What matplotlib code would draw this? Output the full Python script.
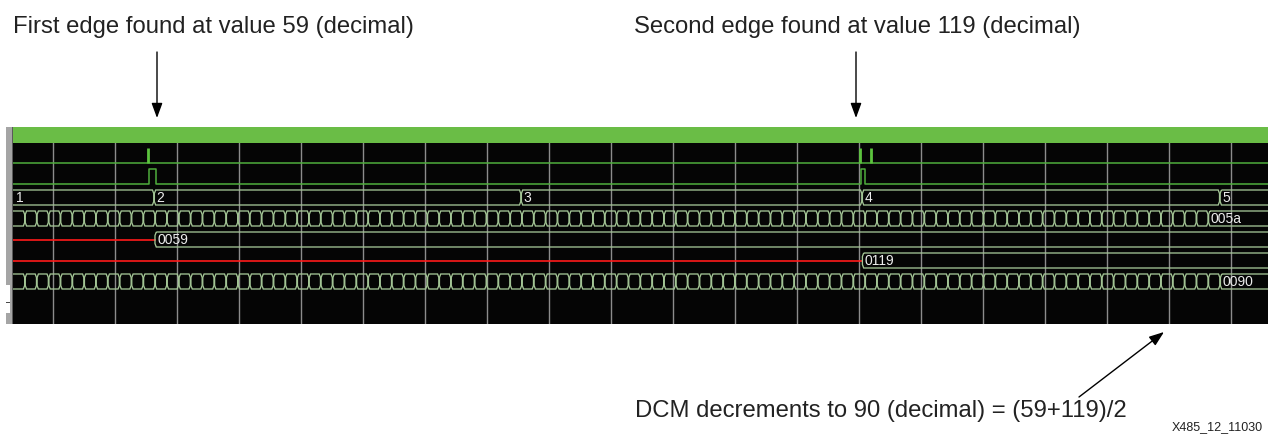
import numpy as np
import matplotlib
matplotlib.use("Agg")
import matplotlib.pyplot as plt
from matplotlib.patches import Polygon, Rectangle

# ---------------- data (time axis in ns) ----------------
grid_ns = [0, 100, 200, 300, 400, 500, 600, 700, 800, 900,
           1000, 1100, 1200, 1300, 1400, 1500, 1600, 1700, 1800, 1900]
view_ns = (-64.5, 1959.7)

# row 1: edge-detect strobes
strobe_ns = [153.7, 1301.6, 1319.4]
# row 2: capture pulses
pulse_start_ns = [154.8, 1303.7]
pulse_end_ns = [165.6, 1310.2]
# row 3: state bus
state_edges_ns = [163.0, 755.0, 1305.0, 1882.0]
state_labels = ["1", "2", "3", "4", "5"]
# rows 4 and 7: counters stepping every clock
clk_first_edge_ns = -45.2
clk_period_ns = 19.086
counter_a_steps = 101          # ends at value 005a
counter_b_steps = 102          # ends at value 0090
counter_a_final = "005a"
counter_b_final = "0090"
# rows 5 and 6: captured edge values
first_edge_ns = 164.0
first_edge_value = "0059"
second_edge_ns = 1305.0
second_edge_value = "0119"

# ---------------- style ----------------
W, H = 1268, 434
BUS = "#a3c595"
GREEN = "#4fae3c"
GREEN_BAR = "#6abd46"
RED = "#ff1a1a"
GRID = "#8c8c8c"
TXT = "#222222"
LBL = "#ececec"
BUS_FONT = ["Liberation Sans Narrow", "Liberation Sans", "DejaVu Sans"]
BUS_FS = 10

fig = plt.figure(figsize=(W / 100, H / 100), dpi=100)
fig.patch.set_facecolor("white")

# main waveform panel: px x 13..1268, px y 127..324
px_top, px_bot = 127, 324
ax = fig.add_axes([13 / W, 1 - px_bot / H, (W - 13) / W, (px_bot - px_top) / H])
ax.set_facecolor("#050505")
ROW_PX = 21.0
row0_px = 155.5
to_row = lambda p: (p - row0_px) / ROW_PX
ax.set_xlim(*view_ns)
ax.set_ylim(to_row(px_bot), to_row(px_top))
ax.axis("off")
ax.add_patch(Rectangle((view_ns[0], to_row(px_top)), view_ns[1] - view_ns[0],
                       to_row(143) - to_row(px_top), color=GREEN_BAR, zorder=5, lw=0))
ax.add_patch(Rectangle((view_ns[0], to_row(143)), view_ns[1] - view_ns[0],
                       to_row(px_bot) - to_row(143), color="#050505", zorder=0, lw=0))

for g in grid_ns:
    ax.plot([g, g], [to_row(143), to_row(px_bot)], color=GRID, lw=1.0, zorder=1)

hh = 7.5 / ROW_PX
d, gp, hv = 2.6, 0.5, 3.5 / ROW_PX


def cell(row, s, e, color=BUS):
    top, bot = row - hh, row + hh
    pts = [(s + d, top), (e - d, top), (e - gp, top + hv), (e - gp, bot - hv),
           (e - d, bot), (s + d, bot), (s + gp, bot - hv), (s + gp, top + hv)]
    ax.add_patch(Polygon(pts, closed=True, fill=False, edgecolor=color, lw=0.95,
                         zorder=3, joinstyle="miter"))


def label(x, row, s):
    ax.text(x, row + 0.03, s, color=LBL, fontsize=BUS_FS, family=BUS_FONT,
            va="center", ha="left", zorder=4)


def bus(row, edges, labels=None, label_last_only=None):
    left = view_ns[0] - 30
    right = view_ns[1] + 30
    bounds = [left] + list(edges) + [right]
    for i in range(len(bounds) - 1):
        cell(row, bounds[i], bounds[i + 1])
    if labels is not None:
        for i, lab in enumerate(labels):
            x = (view_ns[0] + 5) if i == 0 else bounds[i] + 4.0
            label(x, row, lab)
    if label_last_only is not None:
        label(bounds[-2] + 4.0, row, label_last_only)


# row 1 (index 0): strobes
lo, hi = 0 + hh, 0 - hh
ax.plot(view_ns, [lo, lo], color=GREEN, lw=1.1, zorder=3)
for s in strobe_ns:
    ax.plot([s, s], [lo, hi], color="#5cc43e", lw=2.0, zorder=3, solid_capstyle="butt")

# row 2 (index 1): pulses
lo, hi = 1 + hh, 1 - hh
xs, ys = [view_ns[0]], [lo]
for a, b in zip(pulse_start_ns, pulse_end_ns):
    xs += [a, a, b, b]
    ys += [lo, hi, hi, lo]
xs.append(view_ns[1]); ys.append(lo)
ax.plot(xs, ys, color=GREEN, lw=1.1, zorder=3)

# row 3 (index 2): state bus
bus(2, state_edges_ns, labels=state_labels)

# row 4 (index 3): counter a
edges_a = clk_first_edge_ns + clk_period_ns * np.arange(counter_a_steps)
bus(3, edges_a, label_last_only=counter_a_final)

# row 5 (index 4): first edge value
ax.plot([view_ns[0], first_edge_ns + gp], [4, 4], color=RED, lw=1.2, zorder=3)
cell(4, first_edge_ns, view_ns[1] + 30)
label(first_edge_ns + 4.0, 4, first_edge_value)

# row 6 (index 5): second edge value
ax.plot([view_ns[0], second_edge_ns + gp], [5, 5], color=RED, lw=1.2, zorder=3)
cell(5, second_edge_ns, view_ns[1] + 30)
label(second_edge_ns + 4.0, 5, second_edge_value)

# row 7 (index 6): counter b
edges_b = clk_first_edge_ns + clk_period_ns * np.arange(counter_b_steps)
bus(6, edges_b, label_last_only=counter_b_final)

# ---------------- overlay: annotations & window chrome ----------------
ov = fig.add_axes([0, 0, 1, 1], zorder=10)
ov.set_xlim(0, W)
ov.set_ylim(H, 0)
ov.axis("off")
ov.patch.set_alpha(0)

# left gray strip
ov.add_patch(Rectangle((6, 127), 6, 197, color="#a5a5a5", lw=0))
ov.add_patch(Rectangle((11.5, 127), 1.5, 197, color="#5a5a5a", lw=0))
ov.add_patch(Rectangle((6, 285), 4, 28, color="white", lw=0))
ov.add_patch(Rectangle((6, 301.5), 4, 1.5, color="#4a4a4a", lw=0))

font = ["Liberation Sans", "DejaVu Sans"]
ov.text(13, 33, "First edge found at value 59 (decimal)", fontsize=17.2,
        family=font, color=TXT, va="baseline", ha="left")
ov.text(634, 33, "Second edge found at value 119 (decimal)", fontsize=17.2,
        family=font, color=TXT, va="baseline", ha="left")
ov.text(635, 416.5, "DCM decrements to 90 (decimal) = (59+119)/2", fontsize=17.2,
        family=font, color=TXT, va="baseline", ha="left")
ov.text(1172, 430, "X485_12_11030", fontsize=9, family=font, color=TXT,
        va="baseline", ha="left")

aprops = dict(arrowstyle="-|>,head_length=0.9,head_width=0.33", mutation_scale=10,
              lw=1.0, color="black", shrinkA=0, shrinkB=0)
ov.annotate("", xy=(157, 118), xytext=(157, 52), arrowprops=aprops)
ov.annotate("", xy=(856, 118), xytext=(856, 52), arrowprops=aprops)
ov.annotate("", xy=(1164, 332), xytext=(1079, 397), arrowprops=aprops)

fig.savefig("out.png", dpi=100, facecolor="white")
